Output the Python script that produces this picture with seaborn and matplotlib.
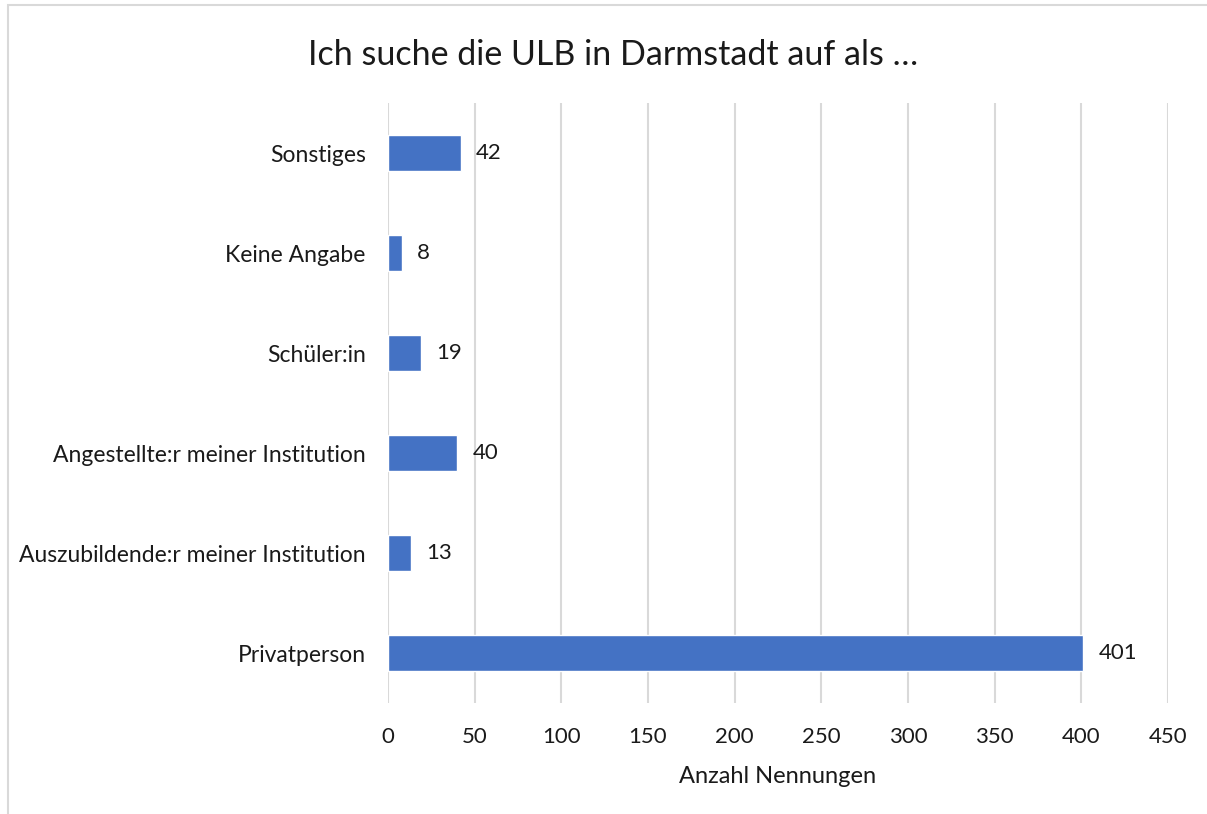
import matplotlib
matplotlib.use("Agg")
import matplotlib.pyplot as plt
import seaborn as sns
import pandas as pd
from matplotlib.patches import Rectangle

categories = ["Sonstiges", "Keine Angabe", "Schüler:in",
              "Angestellte:r meiner Institution",
              "Auszubildende:r meiner Institution", "Privatperson"]
values = [42, 8, 19, 40, 13, 401]
x_ticks = [0, 50, 100, 150, 200, 250, 300, 350, 400, 450]
title = "Ich suche die ULB in Darmstadt auf als …"
x_label = "Anzahl Nennungen"

df = pd.DataFrame({"cat": categories, "val": values})

sns.set_theme(style="white")
plt.rcParams['font.family'] = ['Lato', 'DejaVu Sans']

fig = plt.figure(figsize=(12.07, 8.14), dpi=100)
ax = fig.add_axes([388/1207, 1-703/814, 780/1207, 600/814])

sns.barplot(data=df, y="cat", x="val", order=categories, orient="h",
            color="#4472C4", saturation=1, width=0.36, ax=ax)

ax.set_xlim(0, 450)
ax.set_xticks(x_ticks)
ax.set_xticklabels([str(t) for t in x_ticks], fontsize=16, color="#1a1a1a")
ax.tick_params(axis="y", labelsize=16.5, labelcolor="#1a1a1a", length=0, pad=16)
ax.tick_params(axis="x", length=0, pad=17)
ax.grid(axis="x", color="#d9d9d9", linewidth=1.5)
ax.set_axisbelow(True)
for s in ax.spines.values():
    s.set_visible(False)
ax.set_ylabel("")
ax.set_xlabel(x_label, fontsize=17, color="#1a1a1a", labelpad=14)

for c in ax.containers:
    ax.bar_label(c, padding=11, fontsize=16, color="#1a1a1a")

fig.text(613/1207, 1-55/814, title, ha="center", va="center",
         fontsize=24.5, color="#1a1a1a")

fig.patches.append(Rectangle((8/1207, -0.1), 1.2, 1 - 5/814 + 0.1,
                             transform=fig.transFigure, fill=False,
                             edgecolor="#d9d9d9", linewidth=1.5))

fig.savefig("out.png", dpi=100)
